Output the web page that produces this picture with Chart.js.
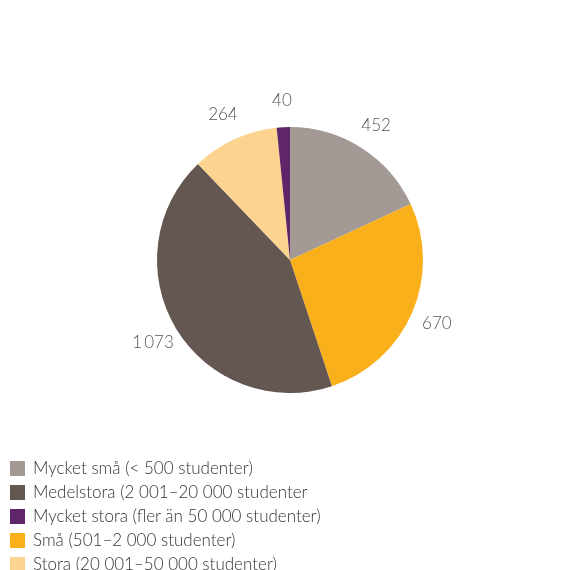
<!DOCTYPE html>
<html>
<head>
<meta charset="utf-8">
<script src="https://cdn.jsdelivr.net/npm/chart.js@4"></script>
<style>
  body { margin: 0; background: #fff; }
  #wrap { position: relative; width: 570px; height: 570px; }
  #legend { position: absolute; left: 10px; top: 458px; font-family: Lato, sans-serif; font-weight: 300; font-size: 17px; color: #333; }
  #legend div { height: 24px; line-height: 20px; white-space: nowrap; }
  #legend span { display: inline-block; width: 15px; height: 15px; margin-right: 8px; vertical-align: -2px; }
</style>
</head>
<body>
<div id="wrap">
  <canvas id="mainChart" width="570" height="570"></canvas>
  <div id="legend"></div>
</div>
<script>
// slices in drawing order, clockwise from top
let labels = ['Mycket små (< 500 studenter)', 'Små (501–2 000 studenter)', 'Medelstora (2 001–20 000 studenter', 'Stora (20 001–50 000 studenter)', 'Mycket stora (fler än 50 000 studenter)'];
let values = [452, 670, 1073, 264, 40];
let valueText = ['452', '670', '1\u2009073', '264', '40'];
let colors = ['#a39995', '#f9b01b', '#645651', '#fdd390', '#5e2668'];
// order used by the legend
let legendOrder = [0, 2, 4, 1, 3];

let valueLabels = {
    id: 'valueLabels',
    afterDatasetsDraw(chart) {
        let ctx = chart.ctx;
        let meta = chart.getDatasetMeta(0);
        ctx.save();
        ctx.font = '300 17px Lato, sans-serif';
        ctx.fillStyle = '#555';
        ctx.textAlign = 'center';
        ctx.textBaseline = 'middle';
        meta.data.forEach(function(arc, i) {
            let mid = (arc.startAngle + arc.endAngle) / 2;
            let r = arc.outerRadius + 27;
            ctx.fillText(valueText[i], arc.x + Math.cos(mid) * r, arc.y + Math.sin(mid) * r);
        });
        ctx.restore();
    }
};

let mainChartConfig = {
    type: 'pie',
    data: {
        labels: labels,
        datasets: [{
            data: values,
            backgroundColor: colors,
            borderWidth: 0
        }]
    },
    options: {
        responsive: false,
        animation: false,
        layout: { padding: { left: 157, right: 147, top: 127, bottom: 177 } },
        plugins: {
            legend: { display: false },
            tooltip: { enabled: false }
        }
    },
    plugins: [valueLabels]
};

window.onload = function() {
    let ctx = document.getElementById('mainChart').getContext('2d');
    window.myPie = new Chart(ctx, mainChartConfig);
    let html = '';
    legendOrder.forEach(function(i) {
        html += '<div><span style="background:' + colors[i] + '"></span>' + labels[i] + '</div>';
    });
    document.getElementById('legend').innerHTML = html;
};
</script>
</body>
</html>
